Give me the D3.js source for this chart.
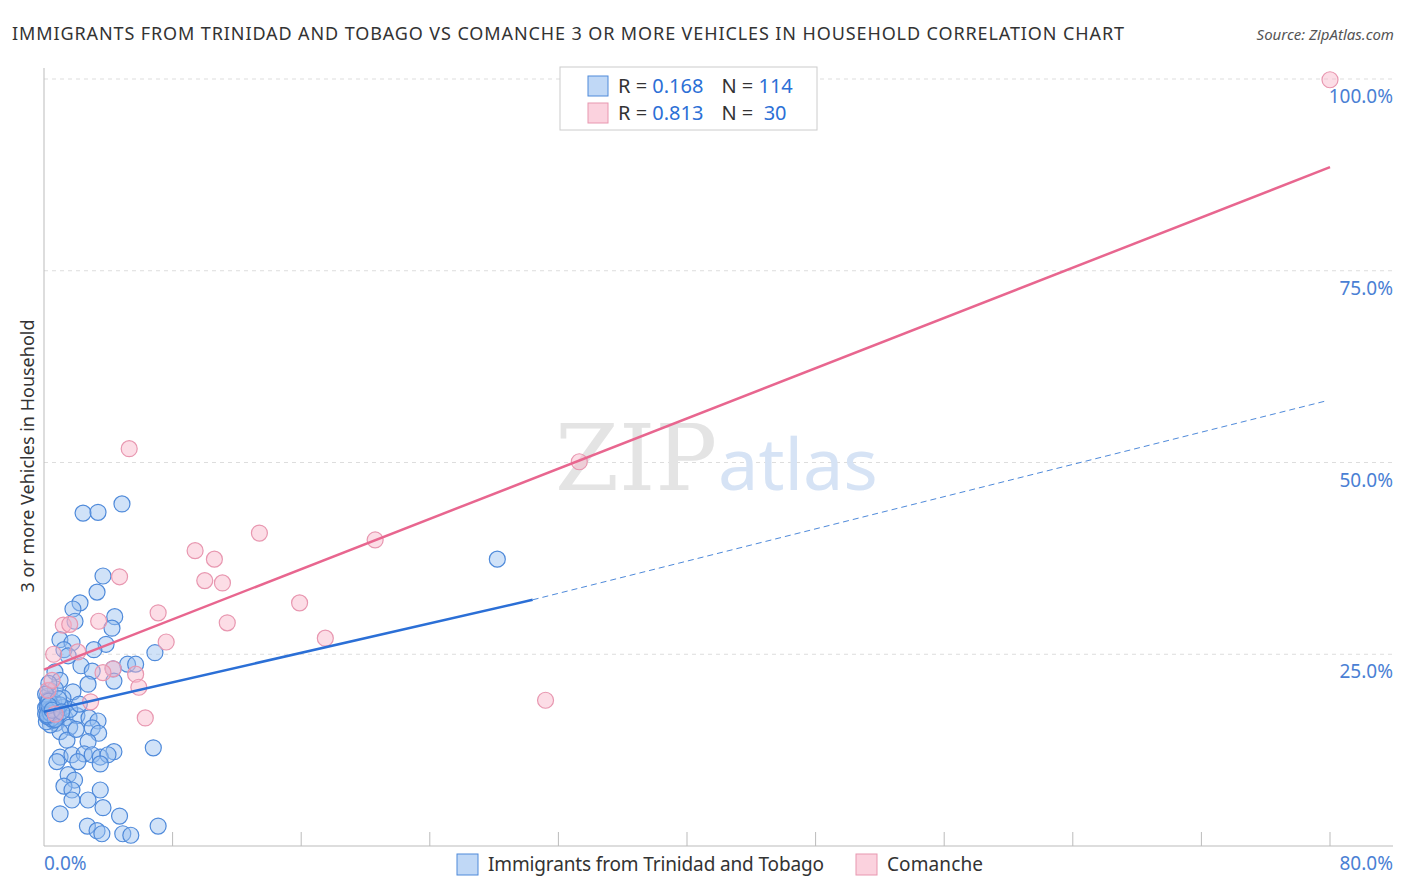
<!DOCTYPE html>
<html><head><meta charset="utf-8">
<script src="https://cdn.jsdelivr.net/npm/d3@7/dist/d3.min.js"></script>
<style>body{margin:0;background:#fff;font-family:"Noto Sans",Roboto,sans-serif}</style>
</head><body><svg id="c" width="1406" height="892"></svg>
<script>
const blueX=[2.43,3.36,4.85,28.2,3.67,3.3,2.24,1.8,4.4,1.93,4.23,0.99,1.74,3.86,3.1,1.24,1.5,6.9,2.3,5.2,5.7,4.3,3.0,0.68,2.74,1.0,4.35,0.37,1.8,1.18,0.25,0.5,0.87,0.37,1.3,2.05,2.8,3.36,0.75,1.6,3.0,3.4,1.0,2.74,1.43,6.8,4.35,1.0,1.74,2.5,3.0,3.5,3.98,0.8,2.1,3.5,1.5,1.9,1.24,1.74,3.5,1.74,2.74,1.0,3.67,4.7,2.7,3.3,3.6,4.9,5.4,7.1,0.1,0.3,0.5,0.2,0.6,0.4,0.9,1.2,0.7,1.6,2.2,2.0,0.3,0.1,0.2,0.3,0.4,0.5,0.6,0.15,0.25,0.35,0.45,0.55,0.8,1.0,0.1,0.2,0.3,0.4,0.6,0.7,0.9,0.2,0.3,0.5,1.1];
const blueY=[43.4,43.5,44.6,37.4,35.2,33.1,31.7,30.9,29.9,29.3,28.4,26.9,26.5,26.3,25.6,25.6,24.8,25.2,23.5,23.7,23.7,23.1,22.8,22.7,21.1,21.6,21.5,20.3,20.1,19.3,19.0,18.3,17.6,17.0,16.7,17.0,16.7,16.3,16.0,15.5,15.4,14.7,14.9,13.6,13.8,12.8,12.3,11.6,11.9,12.0,11.9,11.6,11.9,11.0,11.0,10.7,9.3,8.6,7.8,7.3,7.3,6.0,6.0,4.2,5.0,3.9,2.6,2.0,1.6,1.6,1.4,2.6,18,17.5,16.8,19.5,18.8,15.8,17.2,18.1,20.5,17.8,18.5,15.2,21.2,17.2,18.2,17.0,18.6,17.4,16.4,16.2,19.0,17.8,16.6,18.0,17.6,18.4,19.8,16.9,18.9,17.3,17.9,16.5,19.2,17.1,18.3,17.7,17.5];
const pinkX=[80,5.3,33.3,13.4,20.6,9.4,10.6,4.7,10.0,11.1,7.1,15.9,11.4,3.4,1.2,1.6,17.5,7.6,0.6,2.1,4.3,3.67,5.7,5.9,31.2,6.3,0.25,2.9,0.7,0.5];
const pinkY=[99.9,51.8,50.1,40.8,39.9,38.5,37.4,35.1,34.6,34.3,30.4,31.7,29.1,29.3,28.8,28.9,27.1,26.6,25.0,25.3,23.1,22.6,22.4,20.7,19.0,16.7,20.3,18.8,17.2,21.6];
const blueLine={x0:0,y0:17.5,x1:30.4,y1:32.1,x2:79.7,y2:58.0};
const pinkLine={x0:0,y0:23.0,x1:80,y1:88.5};
const yTicks=[25,50,75,100];
const xTicks=[0,8,16,24,32,40,48,56,64,72,80];

const svg=d3.select("#c");
const x=d3.scaleLinear().domain([0,80]).range([44,1330]);
const y=d3.scaleLinear().domain([0,100]).range([846,79]);
svg.selectAll(".g").data(yTicks).join("line").attr("x1",44).attr("x2",1393)
 .attr("y1",d=>y(d)).attr("y2",d=>y(d)).attr("stroke","#ddd").attr("stroke-dasharray","4,4");
svg.append("line").attr("x1",44).attr("x2",1393).attr("y1",846).attr("y2",846).attr("stroke","#bbb");
svg.append("line").attr("x1",44).attr("x2",44).attr("y1",68).attr("y2",846).attr("stroke","#bbb");
svg.selectAll(".xt").data(xTicks.slice(1)).join("line").attr("x1",d=>x(d)).attr("x2",d=>x(d))
 .attr("y1",832).attr("y2",846).attr("stroke","#bbb");
svg.selectAll(".yl").data(yTicks).join("text").attr("x",1393).attr("y",d=>y(d)+24).attr("text-anchor","end")
 .attr("fill","#4a7fd4").attr("font-size",19).text(d=>d.toFixed(1)+"%");
svg.append("text").attr("x",44).attr("y",870).attr("fill","#4a7fd4").attr("font-size",19).text("0.0%");
svg.append("text").attr("x",1393).attr("y",870).attr("text-anchor","end").attr("fill","#4a7fd4").attr("font-size",19).text("80.0%");
svg.append("text").attr("x",555).attr("y",490).attr("font-family","DejaVu Serif,serif").attr("font-size",92).attr("fill","#e4e4e4").text("ZIP");
svg.append("text").attr("x",718).attr("y",490).attr("font-size",72).attr("fill","#d6e3f5").text("atlas");
const g=svg.append("g");
g.selectAll(".b").data(blueX.map((v,i)=>[v,blueY[i]])).join("circle").attr("cx",d=>x(d[0])).attr("cy",d=>y(d[1])).attr("r",8)
 .attr("fill","rgba(150,190,240,0.45)").attr("stroke","#4f8ada").attr("stroke-width",1.2);
g.selectAll(".p").data(pinkX.map((v,i)=>[v,pinkY[i]])).join("circle").attr("cx",d=>x(d[0])).attr("cy",d=>y(d[1])).attr("r",8)
 .attr("fill","rgba(248,180,200,0.45)").attr("stroke","#e897b0").attr("stroke-width",1.2);
svg.append("line").attr("x1",x(blueLine.x0)).attr("y1",y(blueLine.y0)).attr("x2",x(blueLine.x1)).attr("y2",y(blueLine.y1)).attr("stroke","#2b6fd6").attr("stroke-width",2.5);
svg.append("line").attr("x1",x(blueLine.x1)).attr("y1",y(blueLine.y1)).attr("x2",x(blueLine.x2)).attr("y2",y(blueLine.y2)).attr("stroke","#4f8ada").attr("stroke-width",1).attr("stroke-dasharray","6,4");
svg.append("line").attr("x1",x(pinkLine.x0)).attr("y1",y(pinkLine.y0)).attr("x2",x(pinkLine.x1)).attr("y2",y(pinkLine.y1)).attr("stroke","#e8668f").attr("stroke-width",2.5);
svg.append("text").attr("x",12).attr("y",40).attr("font-size",18).attr("textLength",1112).attr("fill","#333").text("IMMIGRANTS FROM TRINIDAD AND TOBAGO VS COMANCHE 3 OR MORE VEHICLES IN HOUSEHOLD CORRELATION CHART");
svg.append("text").attr("x",1394).attr("y",40).attr("text-anchor","end").attr("font-size",15).attr("font-style","italic").attr("fill","#555").text("Source: ZipAtlas.com");
svg.append("text").attr("transform","translate(34,456) rotate(-90)").attr("text-anchor","middle").attr("font-size",18).attr("fill","#333").text("3 or more Vehicles in Household");
svg.append("rect").attr("x",560).attr("y",67).attr("width",257).attr("height",63).attr("fill","#fff").attr("stroke","#ccc");
const leg=[["0.168","114","rgba(150,190,240,0.6)","#4f8ada"],["0.813"," 30","rgba(248,180,200,0.6)","#e897b0"]];
leg.forEach((l,i)=>{const yy=86+i*27;
 svg.append("rect").attr("x",588).attr("y",yy-10).attr("width",20).attr("height",20).attr("fill",l[2]).attr("stroke",l[3]);
 const t=svg.append("text").attr("x",618).attr("y",yy+7).attr("font-size",20).attr("fill","#333").attr("xml:space","preserve");
 t.append("tspan").text("R = ");t.append("tspan").attr("fill","#2b6fd6").text(l[0]);
 t.append("tspan").attr("dx",18).text("N = ");t.append("tspan").attr("fill","#2b6fd6").text(l[1]);
});
const bl=[[457,"Immigrants from Trinidad and Tobago","rgba(150,190,240,0.6)","#4f8ada",336],[856,"Comanche","rgba(248,180,200,0.6)","#e897b0",96]];
bl.forEach(b=>{svg.append("rect").attr("x",b[0]).attr("y",854).attr("width",21).attr("height",21).attr("fill",b[2]).attr("stroke",b[3]);
 svg.append("text").attr("x",b[0]+31).attr("y",871).attr("font-size",19).attr("textLength",b[4]).attr("fill","#333").text(b[1]);});
</script></body></html>
